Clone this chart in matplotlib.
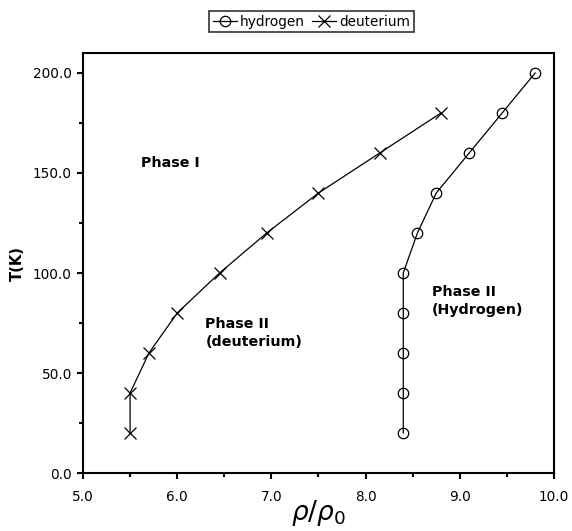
import matplotlib
matplotlib.use("Agg")
import matplotlib.pyplot as plt
from matplotlib.ticker import MultipleLocator, FormatStrFormatter

plt.rcParams['font.family'] = ['DejaVu Sans']
plt.rcParams['mathtext.fontset'] = 'dejavusans'

h_rho = [8.4, 8.4, 8.4, 8.4, 8.4, 8.55, 8.75, 9.1, 9.45, 9.8]
h_T = [20, 40, 60, 80, 100, 120, 140, 160, 180, 200]
d_rho = [5.5, 5.5, 5.7, 6.0, 6.45, 6.95, 7.5, 8.15, 8.8]
d_T = [20, 40, 60, 80, 100, 120, 140, 160, 180]

fig = plt.figure(figsize=(5.72, 5.31), dpi=100)
ax = fig.add_axes([0.1451, 0.1092, 0.8234, 0.791])

ax.plot(h_rho, h_T, color='black', lw=0.9, marker='o', ms=7.5,
        mfc='none', mec='black', mew=0.9, label='hydrogen')
ax.plot(d_rho, d_T, color='black', lw=0.9, marker='x', ms=9,
        mec='black', mew=0.9, label='deuterium')

ax.set_xlim(5, 10)
ax.set_ylim(0, 210)
ax.xaxis.set_major_locator(MultipleLocator(1))
ax.xaxis.set_minor_locator(MultipleLocator(0.5))
ax.yaxis.set_major_locator(MultipleLocator(50))
ax.yaxis.set_minor_locator(MultipleLocator(25))
ax.xaxis.set_major_formatter(FormatStrFormatter('%.1f'))
ax.yaxis.set_major_formatter(FormatStrFormatter('%.1f'))

for s in ax.spines.values():
    s.set_linewidth(1.5)
ax.tick_params(which='major', direction='out', length=4.5, width=1.5,
               labelsize=9.8)
ax.tick_params(axis='y', which='major', pad=3.5)
ax.tick_params(axis='x', which='major', pad=8)
ax.tick_params(which='minor', direction='out', length=3, width=1.5)

ax.set_ylabel('T(K)', fontsize=10.6, fontweight='bold')
ax.yaxis.set_label_coords(-0.123, 0.5)
ax.set_xlabel(r'$\rho/\rho_0$', fontsize=19)
ax.xaxis.set_label_coords(0.5, -0.095)
ax.xaxis.label.set_va('center')

txt = dict(fontsize=10.3, fontweight='bold', va='center', ha='left')
ax.text(5.62, 155, 'Phase I', **txt)
ax.text(6.30, 70, 'Phase II\n(deuterium)', linespacing=1.3, **txt)
ax.text(8.70, 86, 'Phase II\n(Hydrogen)', linespacing=1.3, **txt)

leg = fig.legend(loc='center', bbox_to_anchor=(0.5446, 0.9595), ncol=2,
                 frameon=True, fancybox=False, edgecolor='black',
                 fontsize=9.8, handlelength=1.8, handletextpad=0.2,
                 columnspacing=0.5, borderpad=0.25, borderaxespad=0)
leg.get_frame().set_linewidth(1.2)

fig.savefig('out.png', dpi=100)
